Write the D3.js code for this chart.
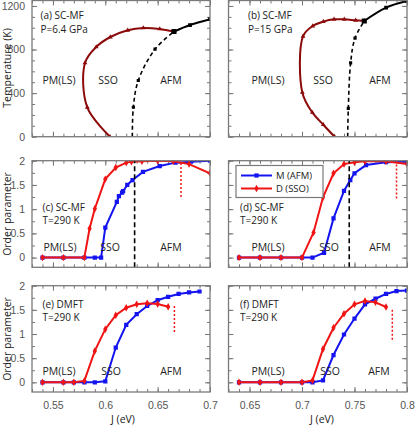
<!DOCTYPE html>
<html lang="en">
<head>
<meta charset="UTF-8">
<title>Phase diagram and order parameters</title>
<script src="https://d3js.org/d3.v7.min.js"></script>
<style>
  body { margin: 0; background: white; }
  svg { font-family: "Open Sans", "DejaVu Sans", sans-serif; }
  .tick text { fill: #555; font-size: 10.5px; }
  .tick line { stroke: #777; }
</style>
</head>
<body>
<svg id="chart" width="415" height="428"></svg>
<script>
// ---- data ----
// (a) SC-MF, P=6.4 GPa : [J (eV), T (K)]
const ssoA = [[0.6045, 0], [0.5828, 269], [0.5806, 677], [0.5914, 824], [0.6048, 915],
              [0.6214, 977], [0.6363, 998], [0.652, 989], [0.6656, 965]];
const afmSolidA = [[0.6656, 965], [0.6809, 1025], [0.70, 1078], [0.715, 1125]];
const afmDashA = [[0.6258, 0], [0.6268, 270], [0.6315, 516], [0.6475, 803], [0.6656, 965]];

// (b) SC-MF, P=15 GPa
const ssoB = [[0.731, 0], [0.7203, 110], [0.7098, 223], [0.7003, 406], [0.701, 922],
              [0.7102, 1016], [0.7203, 1056], [0.7305, 1077], [0.7403, 1077], [0.7511, 1068], [0.7593, 1062]];
const afmSolidB = [[0.7593, 1062], [0.7801, 1184], [0.80, 1245]];
const afmDashB = [[0.7435, 0], [0.7441, 260], [0.7463, 677], [0.7505, 905], [0.7593, 1062]];

// (c) SC-MF, T=290 K
const jRedC = [0.54, 0.56, 0.58, 0.585, 0.59, 0.60, 0.61, 0.62, 0.625, 0.635, 0.65, 0.665, 0.68, 0.70];
const dC    = [0, 0, 0, 0.60, 1.01, 1.62, 1.86, 1.96, 1.98, 1.99, 2.0, 1.99, 1.93, 1.74];
const jBlueC = [0.54, 0.56, 0.58, 0.59, 0.596, 0.60, 0.611, 0.613, 0.616, 0.617, 0.621, 0.626, 0.636, 0.652, 0.667, 0.682, 0.70];
const mC     = [0, 0, 0, 0, 0, 0.62, 1.15, 1.27, 1.34, 1.37, 1.50, 1.60, 1.77, 1.89, 1.96, 1.98, 2.0];
const boundaryC = 0.628, dropC = [0.6723, 1.25, 2.0];

// (d) SC-MF, T=290 K
const jRedD = [0.64, 0.66, 0.68, 0.70, 0.711, 0.72, 0.73, 0.74, 0.75, 0.76, 0.78, 0.80];
const dD    = [0, 0, 0, 0, 0.52, 1.245, 1.74, 1.93, 1.97, 1.99, 1.99, 1.93];
const jBlueD = [0.64, 0.66, 0.68, 0.70, 0.71, 0.721, 0.73, 0.74, 0.746, 0.75, 0.761, 0.78, 0.80];
const mD     = [0, 0, 0, 0, 0, 0.10, 0.81, 1.375, 1.60, 1.74, 1.91, 1.97, 1.98];
const boundaryD = 0.745, dropD = [0.790, 1.22, 2.0];

// (e) DMFT, T=290 K
const jRedE = [0.54, 0.56, 0.57, 0.58, 0.59, 0.60, 0.61, 0.62, 0.63, 0.64, 0.65, 0.66];
const dE    = [0, 0, 0, 0.03, 0.65, 1.10, 1.39, 1.545, 1.615, 1.635, 1.62, 1.565];
const jBlueE = [0.54, 0.56, 0.57, 0.58, 0.59, 0.60, 0.61, 0.62, 0.63, 0.64, 0.65, 0.66, 0.67, 0.68, 0.69];
const mE     = [0, 0, 0, 0, 0, 0.02, 0.72, 1.19, 1.41, 1.58, 1.70, 1.77, 1.83, 1.86, 1.88];
const dropE = [0.666, 1.04, 1.62];

// (f) DMFT, T=290 K
const jRedF = [0.64, 0.66, 0.68, 0.70, 0.71, 0.72, 0.73, 0.74, 0.75, 0.76, 0.77, 0.78];
const dF    = [0, 0, 0, 0, 0.04, 0.69, 1.13, 1.42, 1.615, 1.685, 1.655, 1.56];
const jBlueF = [0.64, 0.66, 0.68, 0.70, 0.71, 0.72, 0.73, 0.74, 0.75, 0.76, 0.77, 0.78, 0.79, 0.80];
const mF     = [0, 0, 0, 0, 0, 0.04, 0.565, 0.99, 1.32, 1.615, 1.73, 1.83, 1.89, 1.90];
const dropF = [0.786, 0.88, 1.53];

// tick labels
const xTicksLeft = [0.55, 0.6, 0.65, 0.7];
const xTicksRight = [0.65, 0.7, 0.75, 0.8];
const tTicks = [0, 400, 800, 1200];
const opTicks = [0, 0.5, 1, 1.5, 2];

// ---- layout ----
const svg = d3.select("#chart");
const colRed = "#f01414", colBlue = "#1414f0", colDark = "#8c0a0a";

const xL = d3.scaleLinear().domain([0.53, 0.70]).range([32, 210]);
const xR = d3.scaleLinear().domain([0.63, 0.80]).range([228.5, 407]);
const yTop = d3.scaleLinear().domain([0, 1250]).range([136.7, 0.5]);
const yMid = d3.scaleLinear().domain([-0.2, 2]).range([267.3, 160.7]);
const yBot = d3.scaleLinear().domain([-0.2, 2]).range([392, 285.7]);

const zip = (a, b) => a.map((v, i) => [v, b[i]]);
const fmt = d => d3.format("~g")(d);

let clipId = 0;
function makePanel(x, y, opt) {
  const g = svg.append("g");
  const [x0, x1] = x.range(), [y0, y1] = y.range();
  const id = "clip" + (clipId++);
  svg.append("clipPath").attr("id", id).append("rect")
    .attr("x", x0).attr("y", y1).attr("width", x1 - x0).attr("height", y0 - y1);

  const xMinor = d3.range(Math.round(x.domain()[0] * 100), Math.round(x.domain()[1] * 100) + 1).map(d => d / 100);
  const yMinor = opt.yMinor;

  // axes: ticks on all four sides, pointing inward
  const ax = (a, tv, size, lab) => a.tickValues(tv).tickSize(-size).tickFormat(lab ? fmt : "");
  const put = (sel, tr) => { sel.attr("transform", tr); sel.select(".domain").remove(); return sel; };

  put(g.append("g").call(ax(d3.axisBottom(x), xMinor, 3, false)), `translate(0,${y0})`);
  put(g.append("g").call(ax(d3.axisBottom(x), opt.xTicks, 5, opt.xLabels).tickPadding(10)), `translate(0,${y0})`);
  put(g.append("g").call(ax(d3.axisTop(x), xMinor, 3, false)), `translate(0,${y1})`);
  put(g.append("g").call(ax(d3.axisTop(x), opt.xTicks, 5, false)), `translate(0,${y1})`);
  put(g.append("g").call(ax(d3.axisLeft(y), yMinor, 3, false)), `translate(${x0},0)`);
  put(g.append("g").call(ax(d3.axisLeft(y), opt.yTicks, 5, opt.yLabels).tickPadding(7)), `translate(${x0},0)`);
  put(g.append("g").call(ax(d3.axisRight(y), yMinor, 3, false)), `translate(${x1},0)`);
  put(g.append("g").call(ax(d3.axisRight(y), opt.yTicks, 5, false)), `translate(${x1},0)`);
  g.selectAll(".tick line").attr("stroke", "#777");

  const plot = g.append("g").attr("clip-path", `url(#${id})`);
  g.append("rect").attr("x", x0).attr("y", y1).attr("width", x1 - x0).attr("height", y0 - y1)
    .attr("fill", "none").attr("stroke", "#7a7a7a").attr("stroke-width", 1.3);
  return { g, plot, x, y };
}

function line(p, pts, color, width, dash, curve) {
  const gen = d3.line().x(d => p.x(d[0])).y(d => p.y(d[1])).curve(curve || d3.curveLinear);
  p.plot.append("path").datum(pts).attr("d", gen).attr("fill", "none")
    .attr("stroke", color).attr("stroke-width", width).attr("stroke-dasharray", dash || null);
}
function markers(p, pts, color, shape, size) {
  p.plot.selectAll(null).data(pts).enter().append("path")
    .attr("transform", d => `translate(${p.x(d[0])},${p.y(d[1])})`)
    .attr("d", d3.symbol().type(shape).size(size)).attr("fill", color);
}
function label(p, text, x, y, anchor, size) {
  p.g.append("text").attr("x", x).attr("y", y).attr("text-anchor", anchor || "middle")
    .attr("font-size", size || 10.5).attr("fill", "#222").text(text);
}

// ---- top row: phase diagrams ----
const topOpt = { yTicks: tTicks, yMinor: d3.range(0, 1300, 100), xLabels: false };
const pA = makePanel(xL, yTop, { ...topOpt, xTicks: xTicksLeft, yLabels: true });
const pB = makePanel(xR, yTop, { ...topOpt, xTicks: xTicksRight, yLabels: false });

[[pA, ssoA, afmSolidA, afmDashA], [pB, ssoB, afmSolidB, afmDashB]].forEach(([p, sso, solid, dash]) => {
  line(p, sso, colDark, 2, null, d3.curveCatmullRom);
  markers(p, sso, colDark, d3.symbolTriangle, 10);
  line(p, dash, "#000", 1.6, "4,3", d3.curveCatmullRom);
  markers(p, dash.slice(1, -1), "#000", d3.symbolSquare, 10);
  line(p, solid, "#000", 2, null, d3.curveCatmullRom);
  markers(p, solid.slice(0, 1), "#000", d3.symbolSquare, 26);
  markers(p, solid.slice(1), "#000", d3.symbolSquare, 14);
});

label(pA, "(a) SC-MF", 40.5, 19, "start", 10);
label(pA, "P=6.4 GPa", 40.5, 32.5, "start", 10);
label(pA, "PM(LS)", 59, 84); label(pA, "SSO", 108, 84); label(pA, "AFM", 171, 84);
label(pB, "(b) SC-MF", 248, 19, "start", 10);
label(pB, "P=15 GPa", 248, 32.5, "start", 10);
label(pB, "PM(LS)", 268, 84); label(pB, "SSO", 323, 84); label(pB, "AFM", 380, 84);

// ---- order parameter panels ----
const opMinor = d3.range(-0.25, 2.01, 0.25).filter(d => d > -0.2);
const opPanels = [
  { x: xL, y: yMid, xt: xTicksLeft, ylab: true, xlab: false, red: zip(jRedC, dC), blue: zip(jBlueC, mC), bnd: boundaryC, drop: dropC,
    tag: ["(c) SC-MF", "T=290 K"], tagY: 211, names: [60, 110, 171], nameY: 251, tagX: 42.5 },
  { x: xR, y: yMid, xt: xTicksRight, ylab: false, xlab: false, red: zip(jRedD, dD), blue: zip(jBlueD, mD), bnd: boundaryD, drop: dropD,
    tag: ["(d) SC-MF", "T=290 K"], tagY: 211, names: [268, 329, 380], nameY: 251, tagX: 240 },
  { x: xL, y: yBot, xt: xTicksLeft, ylab: true, xlab: true, red: zip(jRedE, dE), blue: zip(jBlueE, mE), bnd: null, drop: dropE,
    tag: ["(e) DMFT", "T=290 K"], tagY: 307.5, names: [59, 111, 171], nameY: 375, tagX: 42.5 },
  { x: xR, y: yBot, xt: xTicksRight, ylab: false, xlab: true, red: zip(jRedF, dF), blue: zip(jBlueF, mF), bnd: null, drop: dropF,
    tag: ["(f) DMFT", "T=290 K"], tagY: 307.5, names: [268, 330, 379], nameY: 375, tagX: 240 }
];

opPanels.forEach(o => {
  const p = makePanel(o.x, o.y, { xTicks: o.xt, yTicks: opTicks, yMinor: opMinor, xLabels: o.xlab, yLabels: o.ylab });
  line(p, o.blue, colBlue, 2);
  markers(p, o.blue, colBlue, d3.symbolSquare, 18);
  line(p, o.red, colRed, 2);
  markers(p, o.red, colRed, d3.symbolDiamond, 16);
  if (o.bnd !== null) line(p, [[o.bnd, -0.2], [o.bnd, 2]], "#000", 1.6, "5,3");
  line(p, [[o.drop[0], o.drop[1]], [o.drop[0], o.drop[2]]], colRed, 1.5, "2,2");
  label(p, o.tag[0], o.tagX, o.tagY, "start", 10);
  label(p, o.tag[1], o.tagX, o.tagY + 13, "start", 10);
  ["PM(LS)", "SSO", "AFM"].forEach((t, i) => label(p, t, o.names[i], o.nameY));
});

// ---- legend in (d) ----
const leg = svg.append("g");
leg.append("rect").attr("x", 236).attr("y", 165.5).attr("width", 87).attr("height", 32)
  .attr("fill", "white").attr("stroke", "#7a7a7a").attr("stroke-width", 1.2);
[["M (AFM)", colBlue, d3.symbolSquare, 18], ["D (SSO)", colRed, d3.symbolDiamond, 16]].forEach(([t, c, s, sz], i) => {
  const yy = 175.5 + i * 13;
  leg.append("line").attr("x1", 241).attr("x2", 272).attr("y1", yy).attr("y2", yy).attr("stroke", c).attr("stroke-width", 2);
  leg.append("path").attr("transform", `translate(256.5,${yy})`).attr("d", d3.symbol().type(s).size(sz)).attr("fill", c);
  leg.append("text").attr("x", 276).attr("y", yy + 3.4).attr("font-size", 9.5).attr("fill", "#222").text(t);
});

// ---- axis titles ----
const title = (t, x, y, rot) => svg.append("text").attr("transform", `translate(${x},${y})` + (rot ? " rotate(-90)" : ""))
  .attr("text-anchor", "middle").attr("font-size", 10.5).attr("fill", "#222").text(t);
title("Temperature (K)", 11, 68, true);
title("Order parameter", 11, 214, true);
title("Order parameter", 11, 339, true);
title("J (eV)", 123, 423, false);
title("J (eV)", 322, 423, false);
</script>
</body>
</html>
